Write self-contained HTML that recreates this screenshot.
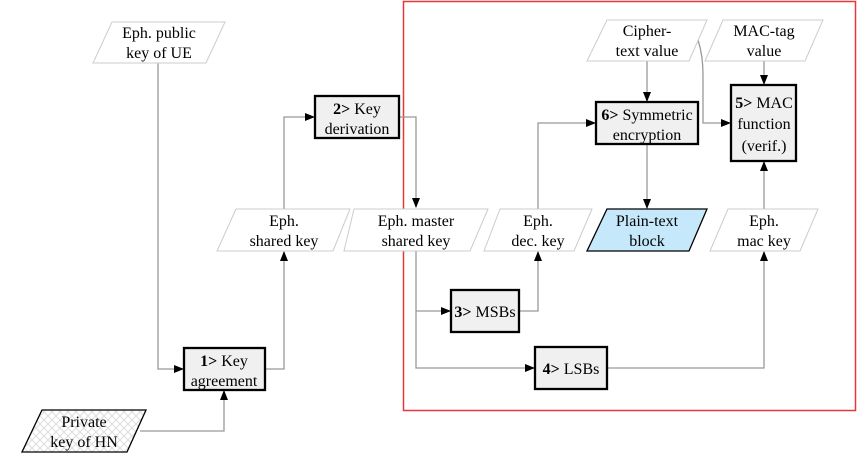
<!DOCTYPE html>
<html><head><meta charset="utf-8"><style>body{margin:0;background:#fff}</style></head><body>
<svg width="866" height="461" viewBox="0 0 866 461" xmlns="http://www.w3.org/2000/svg" font-family="Liberation Serif, serif" font-size="16" text-anchor="middle">
<defs>
<marker id="a" markerWidth="10" markerHeight="8" refX="9" refY="4" orient="auto" markerUnits="userSpaceOnUse"><path d="M0,0 L10,4 L0,8 Z" fill="#000"/></marker>
<pattern id="h" width="8" height="8" patternUnits="userSpaceOnUse"><path d="M0,0L8,8M8,0L0,8" stroke="#ddd" stroke-width="1"/></pattern>
</defs>
<rect x="403.5" y="1.5" width="452" height="409" fill="none" stroke="#e8373a" stroke-width="1.5"/>
<g fill="none" stroke="#999" stroke-width="1.3">
<path d="M158,63 V369 H183" marker-end="url(#a)"/>
<path d="M265,369 H284 V252" marker-end="url(#a)"/>
<path d="M284,209 V117 H314" marker-end="url(#a)"/>
<path d="M399,117 H416 V207" marker-end="url(#a)"/>
<path d="M416,251 V311 H450" marker-end="url(#a)"/>
<path d="M416,311 V368 H534" marker-end="url(#a)"/>
<path d="M519,311 H538 V252" marker-end="url(#a)"/>
<path d="M538,209 V123 H595" marker-end="url(#a)"/>
<path d="M647,61 V101" marker-end="url(#a)"/>
<path d="M698,40 Q703,55 703,75 V123 H730" marker-end="url(#a)"/>
<path d="M764,61 V84" marker-end="url(#a)"/>
<path d="M647,144 V208" marker-end="url(#a)"/>
<path d="M764,209 V162" marker-end="url(#a)"/>
<path d="M607,368 H764 V252" marker-end="url(#a)"/>
<path d="M140,431 H224 V391" marker-end="url(#a)"/>
</g>
<g fill="#fff" stroke="#ccc" stroke-width="1">
<path d="M112,22 H225 L206,63 H93 Z"/>
<path d="M236,209 H350 L333,251 H217 Z"/>
<path d="M354,209 H488 L470,251 H344 Z"/>
<path d="M500,209 H592 L574,251 H484 Z"/>
<path d="M607,20 H707 L689,61 H587 Z"/>
<path d="M723,20 H823 L805,61 H705 Z"/>
<path d="M728,209 H818 L800,251 H710 Z"/>
</g>
<path d="M607,209 H707 L689,251 H587 Z" fill="#c5e8fb" stroke="#000" stroke-width="1.3"/>
<path d="M42,410 H146 L127,452 H22 Z" fill="url(#h)" stroke="#000" stroke-width="1.3"/>
<g fill="#f0f0f0" stroke="#000" stroke-width="2.3">
<rect x="184" y="348" width="81" height="42"/>
<rect x="315" y="96" width="84" height="42"/>
<rect x="451" y="290" width="68" height="42"/>
<rect x="535" y="347" width="72" height="42"/>
<rect x="596" y="102" width="102" height="42"/>
<rect x="731" y="85" width="65" height="76"/>
</g>
<g fill="#000">
<text x="159" y="38">Eph. public</text><text x="159" y="58">key of UE</text>
<text x="284" y="226">Eph.</text><text x="284" y="246">shared key</text>
<text x="416" y="226">Eph. master</text><text x="416" y="246">shared key</text>
<text x="538" y="226">Eph.</text><text x="538" y="246">dec. key</text>
<text x="647" y="36">Cipher-</text><text x="647" y="56">text value</text>
<text x="764" y="36">MAC-tag</text><text x="764" y="56">value</text>
<text x="647" y="226">Plain-text</text><text x="647" y="246">block</text>
<text x="764" y="226">Eph.</text><text x="764" y="246">mac key</text>
<text x="84" y="427">Private</text><text x="84" y="447">key of HN</text>
<text x="224" y="366"><tspan font-weight="bold">1&gt;</tspan> Key</text><text x="224" y="386">agreement</text>
<text x="357" y="114"><tspan font-weight="bold">2&gt;</tspan> Key</text><text x="357" y="134">derivation</text>
<text x="485" y="317"><tspan font-weight="bold">3&gt;</tspan> MSBs</text>
<text x="571" y="374"><tspan font-weight="bold">4&gt;</tspan> LSBs</text>
<text x="647" y="120"><tspan font-weight="bold">6&gt;</tspan> Symmetric</text><text x="647" y="140">encryption</text>
<text x="764" y="108"><tspan font-weight="bold">5&gt;</tspan> MAC</text><text x="764" y="129">function</text><text x="764" y="151">(verif.)</text>
</g>
</svg>
</body></html>
